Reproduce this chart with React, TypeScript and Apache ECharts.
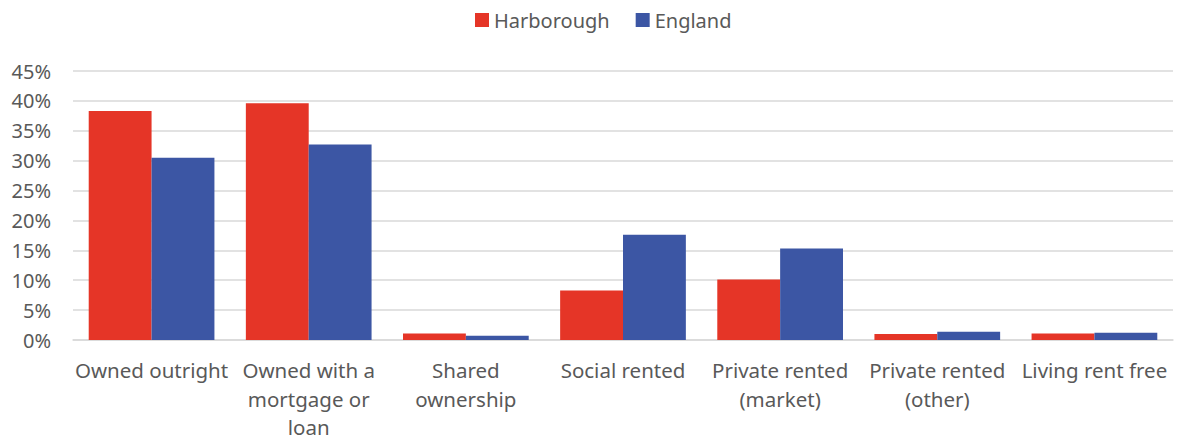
import React, { useEffect, useRef } from "react";
import * as echarts from "echarts";

const categories = [
  "Owned outright",
  "Owned with a\nmortgage or\nloan",
  "Shared\nownership",
  "Social rented",
  "Private rented\n(market)",
  "Private rented\n(other)",
  "Living rent free",
];
const harborough = [38.3, 39.6, 1.1, 8.3, 10.1, 1.0, 1.1];
const england = [30.5, 32.7, 0.7, 17.6, 15.3, 1.4, 1.2];
const seriesNames = ["Harborough", "England"];

const FONT = "'Noto Sans', sans-serif";
const TEXT = "#595959";

export default function App() {
  const ref = useRef<HTMLDivElement>(null);
  useEffect(() => {
    document.body.style.margin = "0";
    if (!ref.current) return;
    const chart = echarts.init(ref.current, undefined, { renderer: "svg" });
    chart.setOption({
      animation: false,
      textStyle: { fontFamily: FONT },
      legend: {
        data: seriesNames,
        top: 5,
        left: 470,
        itemWidth: 14,
        itemHeight: 14,
        itemGap: 26,
        icon: "rect",
        textStyle: { color: TEXT, fontSize: 20, fontFamily: FONT },
      },
      grid: {
        left: 73,
        right: 5,
        top: 71,
        bottom: 102,
        containLabel: false,
        outerBoundsMode: "none",
      },
      xAxis: {
        type: "category",
        data: categories,
        axisLine: { lineStyle: { color: "#d9d9d9", width: 1.5 } },
        axisTick: { show: false },
        axisLabel: {
          color: TEXT,
          fontSize: 20.5,
          lineHeight: 28.5,
          margin: 16,
          interval: 0,
          fontFamily: FONT,
        },
      },
      yAxis: {
        type: "value",
        min: 0,
        max: 45,
        interval: 5,
        axisLine: { show: false },
        axisTick: { show: false },
        splitLine: { lineStyle: { color: "#d9d9d9", width: 1.5 } },
        axisLabel: {
          color: TEXT,
          fontSize: 20,
          margin: 22,
          formatter: (v: number) => v + "%",
          fontFamily: FONT,
        },
      },
      series: [
        {
          name: seriesNames[0],
          type: "bar",
          data: harborough,
          barGap: "0%",
          barCategoryGap: "20%",
          itemStyle: { color: "#E53527" },
        },
        {
          name: seriesNames[1],
          type: "bar",
          data: england,
          itemStyle: { color: "#3C56A4" },
        },
      ],
    });
    return () => chart.dispose();
  }, []);
  return <div ref={ref} style={{ width: 1178, height: 442 }} />;
}
